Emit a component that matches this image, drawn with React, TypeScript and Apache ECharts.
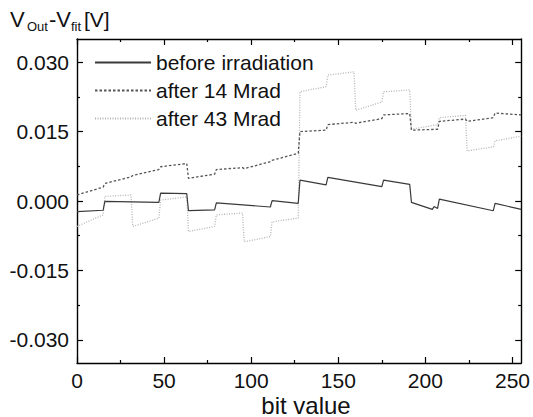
import React, { useEffect, useRef } from "react";
import * as echarts from "echarts";

const bitsBefore = [0, 15, 16, 47, 48, 63, 64, 79, 80, 111, 112, 127, 128, 143, 144, 175, 176, 191, 192, 204, 205, 207, 208, 239, 240, 255];
const voltsBefore = [-0.0023, -0.002, -0.0001, -0.0003, 0.0017, 0.0016, -0.0021, -0.0019, -0.0004, -0.0013, 0.0001, -0.0005, 0.0045, 0.0035, 0.0051, 0.0031, 0.0045, 0.0036, -0.0003, -0.0018, -0.0012, -0.0016, 0.0004, -0.0021, -0.0005, -0.0018];

const bits14 = [0, 15, 16, 31, 32, 47, 48, 63, 64, 79, 80, 95, 96, 111, 112, 127, 128, 143, 144, 159, 160, 175, 176, 191, 192, 207, 208, 223, 224, 239, 240, 255];
const volts14 = [0.0013, 0.003, 0.0038, 0.0052, 0.0055, 0.0068, 0.0074, 0.0081, 0.0049, 0.0058, 0.0068, 0.0072, 0.007, 0.0085, 0.0088, 0.0103, 0.015, 0.0153, 0.0165, 0.017, 0.0168, 0.0178, 0.0186, 0.0189, 0.0153, 0.0155, 0.0172, 0.0177, 0.0172, 0.018, 0.019, 0.0186];

const bits43 = [0, 15, 16, 31, 32, 47, 48, 63, 64, 79, 80, 95, 96, 111, 112, 127, 128, 143, 144, 159, 160, 175, 176, 191, 192, 207, 208, 223, 224, 239, 240, 255];
const volts43 = [-0.0055, -0.003, 0.001, 0.0013, -0.0055, -0.0037, 0.0002, 0.0009, -0.0066, -0.0055, -0.003, -0.0026, -0.0088, -0.0077, -0.0045, -0.0037, 0.0236, 0.0247, 0.0272, 0.0279, 0.0196, 0.0214, 0.0236, 0.024, 0.0155, 0.0165, 0.018, 0.0185, 0.0108, 0.0117, 0.013, 0.014];

const seriesNames = ["before irradiation", "after 14 Mrad", "after 43 Mrad"];

const xMajorTicks = [0, 50, 100, 150, 200, 250];
const xMinorTicks = [25, 75, 125, 175, 225];
const yMajorTicks = [-0.03, -0.015, 0, 0.015, 0.03];
const yMinorTicks = [-0.0225, -0.0075, 0.0075, 0.0225];

const FONT = "'Liberation Sans', Arial, sans-serif";

function pairs(xs: number[], ys: number[]) {
  return xs.map((x, i) => [x, ys[i]]);
}

export default function App() {
  const ref = useRef<HTMLDivElement>(null);
  useEffect(() => {
    document.body.style.margin = "0";
    if (!ref.current) return;
    const chart = echarts.init(ref.current, null, { renderer: "svg" });
    const axisLine = { show: true, onZero: false, lineStyle: { color: "#000", width: 1.4 } };
    const hiddenLine = { show: false, onZero: false };
    const tickStyle = { color: "#000", width: 1.2 };
    const xAxisBase = {
      type: "value" as const,
      min: 0,
      max: 255,
      splitLine: { show: false },
      axisLine,
    };
    const yAxisBase = {
      type: "value" as const,
      min: -0.035,
      max: 0.035,
      splitLine: { show: false },
      axisLine,
    };
    chart.setOption({
      animation: false,
      grid: { left: 77, right: 9, top: 39, bottom: 54, containLabel: false },
      xAxis: [
        {
          ...xAxisBase,
          position: "bottom",
          axisTick: { show: true, inside: true, length: 6, customValues: xMajorTicks, lineStyle: tickStyle },
          axisLabel: { show: true, customValues: xMajorTicks, margin: 7, fontSize: 21, color: "#111", fontFamily: FONT },
        },
        {
          ...xAxisBase,
          position: "bottom",
          axisLine: hiddenLine,
          axisTick: { show: true, inside: true, length: 3, customValues: xMinorTicks, lineStyle: tickStyle },
          axisLabel: { show: false },
        },
        {
          ...xAxisBase,
          position: "top",
          axisTick: { show: true, inside: true, length: 6, customValues: xMajorTicks, lineStyle: tickStyle },
          axisLabel: { show: false },
        },
        {
          ...xAxisBase,
          position: "top",
          axisLine: hiddenLine,
          axisTick: { show: true, inside: true, length: 3, customValues: xMinorTicks, lineStyle: tickStyle },
          axisLabel: { show: false },
        },
      ],
      yAxis: [
        {
          ...yAxisBase,
          position: "left",
          axisTick: { show: true, inside: true, length: 6, customValues: yMajorTicks, lineStyle: tickStyle },
          axisLabel: {
            show: true,
            customValues: yMajorTicks,
            margin: 8,
            fontSize: 21,
            color: "#111",
            fontFamily: FONT,
            formatter: (v: number) => (Math.abs(v) < 1e-9 ? "0.000" : v.toFixed(3)),
          },
        },
        {
          ...yAxisBase,
          position: "left",
          axisLine: hiddenLine,
          axisTick: { show: true, inside: true, length: 3, customValues: yMinorTicks, lineStyle: tickStyle },
          axisLabel: { show: false },
        },
        {
          ...yAxisBase,
          position: "right",
          axisTick: { show: true, inside: true, length: 6, customValues: yMajorTicks, lineStyle: tickStyle },
          axisLabel: { show: false },
        },
        {
          ...yAxisBase,
          position: "right",
          axisLine: hiddenLine,
          axisTick: { show: true, inside: true, length: 3, customValues: yMinorTicks, lineStyle: tickStyle },
          axisLabel: { show: false },
        },
      ],
      legend: {
        orient: "vertical",
        left: 94,
        top: 52,
        padding: 0,
        itemWidth: 56,
        itemHeight: 14,
        itemGap: 7,
        selectedMode: false,
        itemStyle: { opacity: 0 },
        textStyle: { fontSize: 21, lineHeight: 21, color: "#111", fontFamily: FONT },
        data: seriesNames,
      },
      series: [
        {
          name: seriesNames[0],
          type: "line",
          symbol: "none",
          data: pairs(bitsBefore, voltsBefore),
          lineStyle: { color: "#3a3a3a", width: 1.2, type: "solid" },
          itemStyle: { color: "#3a3a3a" },
          z: 3,
        },
        {
          name: seriesNames[1],
          type: "line",
          symbol: "none",
          data: pairs(bits14, volts14),
          lineStyle: { color: "#555", width: 1.3, type: [2.5, 2] },
          itemStyle: { color: "#555" },
          z: 2,
        },
        {
          name: seriesNames[2],
          type: "line",
          symbol: "none",
          data: pairs(bits43, volts43),
          lineStyle: { color: "#b4b4b4", width: 1.3, type: [1, 1.5] },
          itemStyle: { color: "#b4b4b4" },
          z: 1,
        },
      ],
      graphic: [
        { type: "text", silent: true, style: { x: 10, y: 19, text: "V", fontSize: 22, fill: "#111", fontFamily: FONT, verticalAlign: "middle" } },
        { type: "text", silent: true, style: { x: 27, y: 26, text: "Out", fontSize: 13, fill: "#111", fontFamily: FONT, verticalAlign: "middle" } },
        { type: "text", silent: true, style: { x: 49, y: 19, text: "-V", fontSize: 22, fill: "#111", fontFamily: FONT, verticalAlign: "middle" } },
        { type: "text", silent: true, style: { x: 71, y: 26, text: "fit", fontSize: 13, fill: "#111", fontFamily: FONT, verticalAlign: "middle" } },
        { type: "text", silent: true, style: { x: 84, y: 19, text: "[V]", fontSize: 21, fill: "#111", fontFamily: FONT, verticalAlign: "middle" } },
        { type: "text", silent: true, style: { x: 306, y: 405, text: "bit value", fontSize: 24, fill: "#111", fontFamily: FONT, align: "center", verticalAlign: "middle" } },
      ],
    });
    return () => chart.dispose();
  }, []);
  return <div ref={ref} style={{ width: 533, height: 417 }} />;
}
